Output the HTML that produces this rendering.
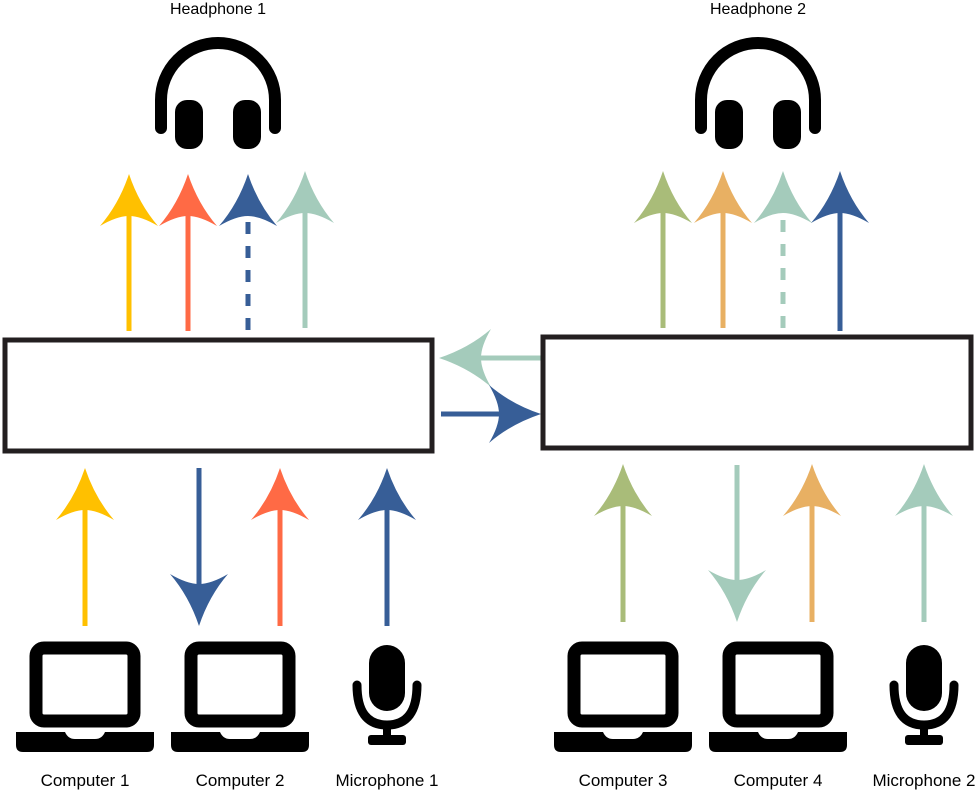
<!DOCTYPE html>
<html><head><style>body{margin:0;background:#fff}svg{display:block}text{font-family:"Liberation Sans",sans-serif;font-size:16px;fill:#000}text.b{font-size:17px}</style></head>
<body>
<svg width="979" height="790" viewBox="0 0 979 790" xmlns="http://www.w3.org/2000/svg">
<defs>
<path id="ah" d="M0,0 Q10,30 29,52 Q12,42 0,42 Q-12,42 -29,52 Q-10,30 0,0Z"/>
<g id="hp">
<path d="M-57,128 V100 A57,57 0 0 1 57,100 V128" fill="none" stroke="#000" stroke-width="12" stroke-linecap="round"/>
<rect x="-43" y="100" width="28" height="49" rx="12" fill="#000"/>
<rect x="15" y="100" width="28" height="49" rx="12" fill="#000"/>
</g>
<g id="lap">
<rect x="-49" y="648" width="98" height="73" rx="8" fill="none" stroke="#000" stroke-width="13"/>
<path d="M-69,732 H-20 Q-17,739 -10,739 H10 Q17,739 20,732 H69 V745 Q69,752 62,752 H-62 Q-69,752 -69,745Z" fill="#000"/>
</g>
<g id="mic">
<rect x="-18" y="645" width="36" height="66" rx="18" fill="#000"/>
<path d="M-30,685 Q-30,725 0,725 Q30,725 30,685" fill="none" stroke="#000" stroke-width="9" stroke-linecap="round"/>
<rect x="-4" y="722" width="8" height="15" fill="#000"/>
<rect x="-19" y="735" width="38" height="10" rx="3" fill="#000"/>
</g>
</defs>
<text x="218" y="14" text-anchor="middle">Headphone 1</text>
<text x="758" y="14" text-anchor="middle">Headphone 2</text>
<use href="#hp" x="218"/>
<use href="#hp" x="758"/>

<g stroke-width="5" fill="none">
<line x1="129" y1="215" x2="129" y2="331" stroke="#FFC000"/>
<line x1="188" y1="215" x2="188" y2="331" stroke="#FF6A45"/>
<line x1="248" y1="222" x2="248" y2="331" stroke="#375E97" stroke-dasharray="12,12"/>
<line x1="305" y1="212" x2="305" y2="328" stroke="#A4CBBB"/>
<line x1="663" y1="212" x2="663" y2="328" stroke="#A9BC79"/>
<line x1="723" y1="212" x2="723" y2="328" stroke="#E8B063"/>
<line x1="783" y1="220" x2="783" y2="328" stroke="#A4CBBB" stroke-dasharray="12,12"/>
<line x1="840" y1="212" x2="840" y2="331" stroke="#375E97"/>
<line x1="85" y1="510" x2="85" y2="626" stroke="#FFC000"/>
<line x1="199" y1="468" x2="199" y2="585" stroke="#375E97"/>
<line x1="280" y1="510" x2="280" y2="626" stroke="#FF6A45"/>
<line x1="387" y1="510" x2="387" y2="626" stroke="#375E97"/>
<line x1="623" y1="505" x2="623" y2="622" stroke="#A9BC79"/>
<line x1="737" y1="465" x2="737" y2="582" stroke="#A4CBBB"/>
<line x1="812" y1="505" x2="812" y2="622" stroke="#E8B063"/>
<line x1="924" y1="505" x2="924" y2="622" stroke="#A4CBBB"/>
<line x1="480" y1="358" x2="541" y2="358" stroke="#A4CBBB"/>
<line x1="441" y1="414" x2="500" y2="414" stroke="#375E97"/>
</g>
<use href="#ah" x="129" y="174" fill="#FFC000"/>
<use href="#ah" x="188" y="174" fill="#FF6A45"/>
<use href="#ah" x="248" y="174" fill="#375E97"/>
<use href="#ah" x="305" y="171" fill="#A4CBBB"/>
<use href="#ah" x="663" y="171" fill="#A9BC79"/>
<use href="#ah" x="723" y="171" fill="#E8B063"/>
<use href="#ah" x="783" y="171" fill="#A4CBBB"/>
<use href="#ah" x="840" y="171" fill="#375E97"/>
<use href="#ah" x="85" y="468" fill="#FFC000"/>
<use href="#ah" x="280" y="468" fill="#FF6A45"/>
<use href="#ah" x="387" y="468" fill="#375E97"/>
<use href="#ah" x="623" y="464" fill="#A9BC79"/>
<use href="#ah" x="812" y="464" fill="#E8B063"/>
<use href="#ah" x="924" y="464" fill="#A4CBBB"/>
<use href="#ah" transform="translate(199,626) rotate(180)" fill="#375E97"/>
<use href="#ah" transform="translate(737,622) rotate(180)" fill="#A4CBBB"/>
<use href="#ah" transform="translate(439,358) rotate(-90)" fill="#A4CBBB"/>
<use href="#ah" transform="translate(541,414) rotate(90)" fill="#375E97"/>

<rect x="5" y="340" width="427" height="111" fill="none" stroke="#231F20" stroke-width="5"/>
<rect x="543" y="337" width="428" height="111" fill="none" stroke="#231F20" stroke-width="5"/>

<use href="#lap" x="85"/>
<use href="#lap" x="240"/>
<use href="#mic" x="387"/>
<use href="#lap" x="623"/>
<use href="#lap" x="778"/>
<use href="#mic" x="924"/>
<text class="b" x="85" y="786" text-anchor="middle">Computer 1</text>
<text class="b" x="240" y="786" text-anchor="middle">Computer 2</text>
<text class="b" x="387" y="786" text-anchor="middle">Microphone 1</text>
<text class="b" x="623" y="786" text-anchor="middle">Computer 3</text>
<text class="b" x="778" y="786" text-anchor="middle">Computer 4</text>
<text class="b" x="924" y="786" text-anchor="middle">Microphone 2</text>
</svg>
</body></html>
